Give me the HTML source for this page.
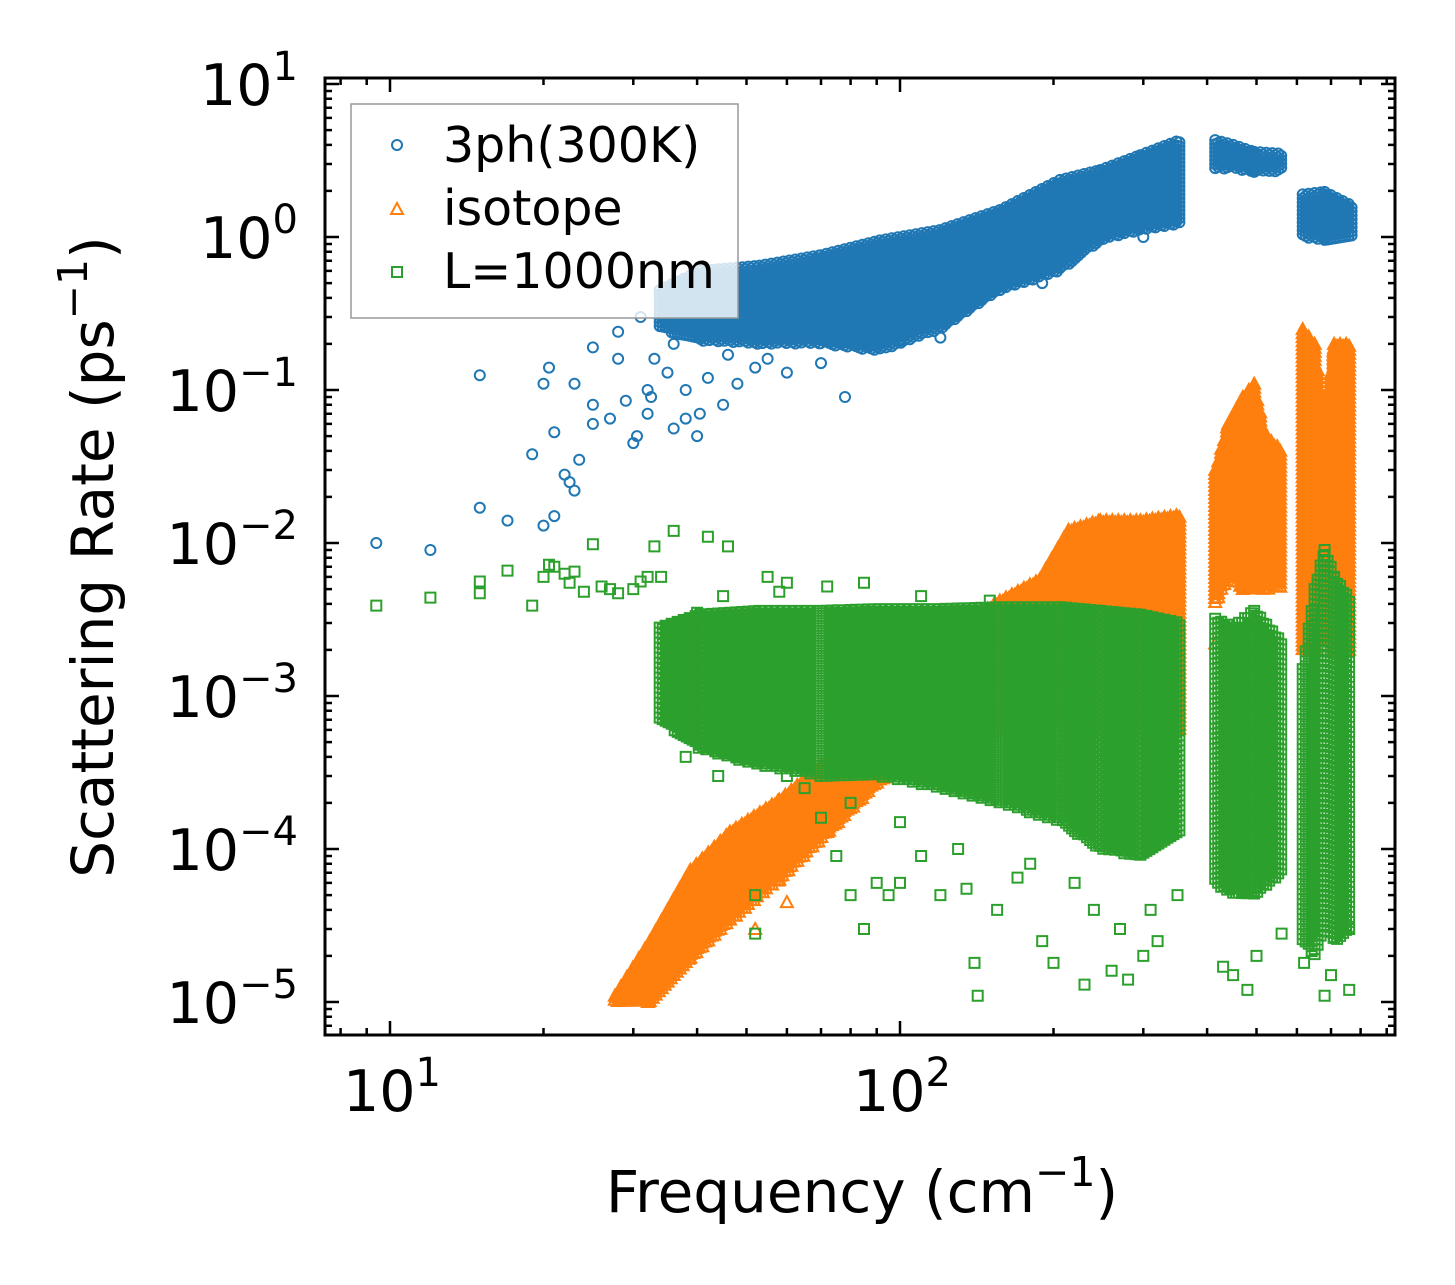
<!DOCTYPE html>
<html><head><meta charset="utf-8"><style>
html,body{margin:0;padding:0;background:#fff}
svg{display:block;font-family:"DejaVu Sans","Liberation Sans",sans-serif}
</style></head><body>
<svg id="chart" width="1455" height="1285" viewBox="0 0 1455 1285" xmlns="http://www.w3.org/2000/svg">
<rect width="1455" height="1285" fill="#fff"/>
<g id="marks"></g>
<g id="axes"></g>
<g id="legend">
  <rect x="351" y="104" width="387" height="214" fill="#fff" fill-opacity="0.8" stroke="#999" stroke-width="1.5"/>
  <g>
    <circle cx="397" cy="145" r="5" fill="none" stroke="#1f77b4" stroke-width="2"/>
    <text x="443" y="162" font-size="49" fill="#000">3ph(300K)</text>
  </g>
  <g>
    <path d="M391 214 L397 203 L403 214 Z" fill="none" stroke="#ff7f0e" stroke-width="2"/>
    <text x="443" y="225" font-size="49" fill="#000">isotope</text>
  </g>
  <g>
    <rect x="392" y="267" width="10" height="10" fill="none" stroke="#2ca02c" stroke-width="2"/>
    <text x="443" y="288" font-size="49" fill="#000">L=1000nm</text>
  </g>
</g>
<text x="862" y="1212" font-size="58" text-anchor="middle">Frequency (cm<tspan dy="-26" font-size="41">−1</tspan><tspan dy="26">)</tspan></text>
<text transform="translate(113,557) rotate(-90)" font-size="58" text-anchor="middle">Scattering Rate (ps<tspan dy="-26" font-size="41">−1</tspan><tspan dy="26">)</tspan></text>
</svg>
<script>
// ---- data ----
const xTickLabels = [1, 2];          // exponents of 10 on x axis
const yTickLabels = [1, 0, -1, -2, -3, -4, -5];
// dense bands: [frequency, low value, high value]
const blueBandMain = [[33.8,0.25,0.45],[40.6,0.21,0.6],[53,0.2,0.65],[69.8,0.2,0.76],[91.3,0.18,0.95],[119.6,0.25,1.11],[157,0.45,1.5],[206,0.6,2.36],[247,0.95,2.74],[296,1.11,3.43],[354,1.2,4.3]];
const blueBandB = [[415,2.74,4.3],[450,2.8,4.0],[495,2.65,3.6],[563,2.7,3.5]];
const blueBandC = [[616,1.0,1.9],[680,0.95,1.97],[770,1.0,1.6]];
const blueSparse = [[9.4,0.01],[12,0.009],[15,0.017],[15,0.125],[17,0.014],[19,0.038],[20,0.11],[20,0.013],[20.5,0.14],[21,0.015],[21,0.053],[22,0.028],[22.5,0.025],[23,0.11],[23,0.022],[23.5,0.035],[25,0.06],[25,0.08],[25,0.19],[27,0.065],[28,0.24],[28,0.16],[29,0.085],[30,0.045],[30.5,0.05],[31,0.3],[32,0.07],[32,0.1],[32.5,0.09],[33,0.16],[35,0.13],[36,0.056],[36,0.2],[38,0.1],[38,0.065],[40,0.05],[40.5,0.07],[42,0.12],[45,0.08],[48,0.11],[52,0.14],[60,0.13],[78,0.09],[46,0.17],[55,0.16],[70,0.15],[100,0.21],[120,0.22],[190,0.5],[220,1.0],[260,1.1],[300,1.0]];
const orangeBandA = [[27.6,1.0e-5,1.1e-5],[32.3,1.0e-5,2.5e-5],[38.8,1.9e-5,7.3e-5],[46.4,3.4e-5,1.3e-4],[58,6.3e-5,2.1e-4],[72.6,1.3e-4,3.9e-4],[91.3,2.8e-4,9.5e-4],[119.6,4.5e-4,2.35e-3],[157,6e-4,4.2e-3],[188,7e-4,5.8e-3],[214,7e-4,1.22e-2],[247,6e-4,1.41e-2],[296,6e-4,1.41e-2],[354,6e-4,1.53e-2]];
const orangeBandB = [[415,4e-3,3e-2],[440,6e-3,6e-2],[470,5e-3,0.09],[495,5e-3,0.11],[520,5e-3,0.05],[563,5e-3,0.04]];
const orangeBandC = [[616,2e-3,0.25],[650,2e-3,0.2],[680,3e-3,0.06],[710,2e-3,0.2],[770,2e-3,0.2]];
const orangeSparse = [[30,1.1e-5],[31,1.05e-5],[34,1.6e-5],[52,3e-5],[60,4.5e-5],[415,2.2e-3],[440,2.6e-3],[640,2e-3]];
const greenBandA = [[33.8,7e-4,2.8e-3],[40.6,4.5e-4,3.4e-3],[53,3.5e-4,3.6e-3],[69.8,3e-4,3.6e-3],[91.3,3e-4,3.7e-3],[119.6,2.5e-4,3.7e-3],[157,2e-4,3.8e-3],[206,1.5e-4,3.8e-3],[247,1.0e-4,3.6e-3],[296,9e-5,3.4e-3],[354,1.3e-4,3.0e-3]];
const greenBandB = [[415,6e-5,3.2e-3],[450,5e-5,2.8e-3],[495,5e-5,3.6e-3],[563,7e-5,2.2e-3]];
const greenBandC = [[616,2.5e-5,1.5e-3],[650,2e-5,5e-3],[680,3e-5,9e-3],[710,2.5e-5,6e-3],[770,3e-5,4e-3]];
const greenSparse = [[9.4,0.0039],[12,0.0044],[15,0.0047],[15,0.0056],[17,0.0066],[19,0.0039],[20,0.006],[20.5,0.0072],[21,0.007],[22,0.0063],[22.5,0.0055],[23,0.0065],[24,0.0048],[25,0.0098],[26,0.0052],[27,0.005],[28,0.0047],[30,0.005],[31,0.0056],[32,0.006],[33,0.0095],[34,0.006],[35,0.0028],[36,0.012],[37,0.0012],[37,0.00075],[38,0.0004],[40,0.0035],[42,0.011],[44,0.0003],[46,0.0095],[48,0.0004],[50,0.0023],[52,0.00005],[52,0.000028],[55,0.006],[60,0.0055],[65,0.00025],[70,0.00016],[75,0.00009],[80,0.00005],[85,0.00003],[90,0.00006],[95,0.00005],[100,0.00006],[110,0.00009],[120,0.00005],[135,0.000055],[140,0.000018],[142,0.000011],[155,0.00004],[170,0.000065],[190,0.000025],[200,0.000018],[230,0.000013],[260,0.000016],[280,0.000014],[300,0.00002],[320,0.000025],[350,0.00005],[340,0.00013],[430,0.000017],[450,0.000015],[480,0.000012],[500,0.00002],[560,0.000028],[620,0.000018],[680,0.000011],[700,0.000015],[760,0.000012],[760,0.00003],[60,0.0003],[80,0.0002],[100,0.00015],[130,0.0001],[180,0.00008],[220,0.00006],[45,0.0045],[58,0.0048],[72,0.0052],[85,0.0055],[110,0.0045],[150,0.0042],[240,0.00004],[270,0.00003],[310,0.00004]];
// ---- axes functions ----
const L=325,R=1395,T=78,B=1035;
function xs(f){return 390+510*(Math.log10(f)-1);}
function ys(v){return 237-153*Math.log10(v);}
const NS="http://www.w3.org/2000/svg";
const marks=document.getElementById('marks');
function circ(x,y){const r=5;return `M${(x-r).toFixed(1)} ${y.toFixed(1)}a${r} ${r} 0 1 0 ${2*r} 0a${r} ${r} 0 1 0 ${-2*r} 0`;}
function tri(x,y){return `M${(x-6).toFixed(1)} ${(y+5).toFixed(1)}l6 -11l6 11z`;}
function sq(x,y){return `M${(x-5).toFixed(1)} ${(y-5).toFixed(1)}h10v10h-10z`;}
function bandPath(band,fn,dx,dy){
  let d='';
  for(let i=0;i<band.length-1;i++){
    const a=band[i],b=band[i+1];
    const x0=xs(a[0]),x1=xs(b[0]);
    for(let x=x0,c=0;x<x1;x+=dx,c++){
      const t=(x-x0)/(x1-x0);
      const yl=ys(a[1])+(ys(b[1])-ys(a[1]))*t;
      const yh=ys(a[2])+(ys(b[2])-ys(a[2]))*t;
      for(let y=yh+(c%2)*dy/2;y<=yl;y+=dy) d+=fn(x,y);
    }
  }
  return d;
}
function sparsePath(pts,fn){let d='';pts.forEach(p=>{d+=fn(xs(p[0]),ys(p[1]));});return d;}
function addPath(d,color,name){
  const p=document.createElementNS(NS,'path');
  p.setAttribute('d',d);p.setAttribute('fill','none');p.setAttribute('stroke',color);p.setAttribute('stroke-width','2');
  
  
  marks.appendChild(p);
}
addPath(sparsePath(blueSparse,circ)+bandPath(blueBandMain,circ,3,4)+bandPath(blueBandB,circ,3,4)+bandPath(blueBandC,circ,3,4),'#1f77b4','series-3ph');
addPath(sparsePath(orangeSparse,tri)+bandPath(orangeBandA,tri,3,4)+bandPath(orangeBandB,tri,3,4)+bandPath(orangeBandC,tri,3,4),'#ff7f0e','series-isotope');
addPath(sparsePath(greenSparse,sq)+bandPath(greenBandA,sq,3,5)+bandPath(greenBandB,sq,3,5)+bandPath(greenBandC,sq,3,5),'#2ca02c','series-l1000nm');
// ---- axes ----
const ax=document.getElementById('axes');
let td='';
function vt(x,len){td+=`M${x.toFixed(1)} ${B}v${-len}M${x.toFixed(1)} ${T}v${len}`;}
function ht(y,len){td+=`M${L} ${y.toFixed(1)}h${len}M${R} ${y.toFixed(1)}h${-len}`;}
for(let e=0;e<=2;e++)for(let m=1;m<10;m++){const f=m*Math.pow(10,e);const x=xs(f);if(x<L+1||x>R-1)continue;vt(x,m===1?14:7);}
for(let e=-6;e<=1;e++)for(let m=1;m<10;m++){const v=m*Math.pow(10,e);const y=ys(v);if(y<T+1||y>B-1)continue;ht(y,m===1?14:7);}
const tp=document.createElementNS(NS,'path');
tp.setAttribute('d',td);tp.setAttribute('stroke','#000');tp.setAttribute('stroke-width','2.5');tp.setAttribute('fill','none');


ax.appendChild(tp);
const fr=document.createElementNS(NS,'rect');
fr.setAttribute('x',L);fr.setAttribute('y',T);fr.setAttribute('width',R-L);fr.setAttribute('height',B-T);
fr.setAttribute('fill','none');fr.setAttribute('stroke','#000');fr.setAttribute('stroke-width','3');


ax.appendChild(fr);
function lab(x,y,exp,anchor,name){
  const t=document.createElementNS(NS,'text');
  t.setAttribute('x',x);t.setAttribute('y',y);t.setAttribute('font-size','57');t.setAttribute('text-anchor',anchor);
  const s=exp<0?'−'+(-exp):''+exp;
  t.innerHTML=`10<tspan dy="-25" font-size="40">${s}</tspan>`;
  
  
  ax.appendChild(t);
}
xTickLabels.forEach(e=>lab(xs(Math.pow(10,e))+2,1111,e,'middle','x-tick-label'));
yTickLabels.forEach(e=>lab(298,ys(Math.pow(10,e))+21,e,'end','y-tick-label'));
</script>
</body></html>
